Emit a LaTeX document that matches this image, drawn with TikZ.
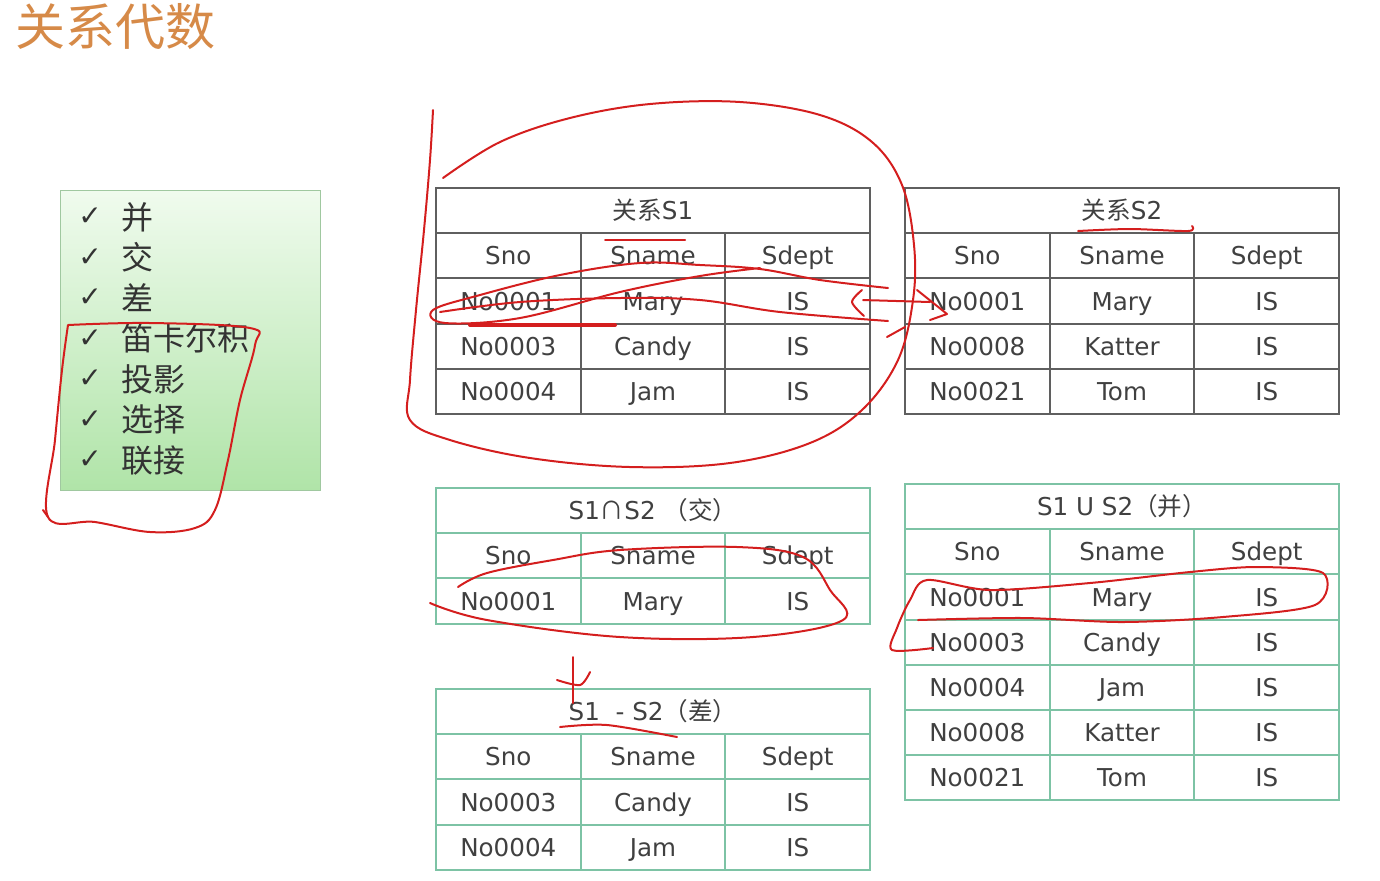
\documentclass[tikz,border=0pt]{standalone}
\usepackage{fontspec}
\setmainfont{DejaVu Sans}
\newfontfamily\cjk{Noto Sans CJK SC}
\definecolor{laranja}{RGB}{214,138,72}
\definecolor{cinza}{RGB}{95,95,95}
\definecolor{verdetab}{RGB}{125,195,165}
\definecolor{texto}{RGB}{64,64,64}
\definecolor{vermelho}{RGB}{212,30,30}
\definecolor{verdeclaro}{RGB}{240,251,238}
\definecolor{verdeescuro}{RGB}{176,228,168}
\definecolor{bordaverde}{RGB}{160,200,160}
\tikzset{
  cel/.style={inner sep=0pt, text height=10pt, text depth=1pt, text=texto, font=\fontsize{12.3}{14}\selectfont},
  item/.style={inner sep=0pt, text=black!80, font=\fontsize{16}{18}\selectfont\cjk},
  tinta/.style={draw=vermelho, line width=1pt, line cap=round, line join=round}
}
% tabela: nome, canto, cor, titulo, linhas
\newcommand{\tabela}[5]{%
  \begin{scope}[shift={#2}, color=#3, line width=1pt]
    \draw (0,0) rectangle (434,45.2);
    \node[cel] (#1-t) at (217,22.6) {#4};
    \foreach \va/\vb/\vc [count=\i from 0] in {Sno/Sname/Sdept,#5} {
      \foreach \vv [count=\j from 0] in {\va,\vb,\vc} {
        \draw (\j*144.7,45.2+\i*45.2) rectangle ++(144.7,45.2);
        \node[cel] (#1-\i-\j) at (72.3+\j*144.7,67.8+\i*45.2) {\vv};
      }
    }
  \end{scope}}
\begin{document}
\begin{tikzpicture}[x=0.5pt,y=-0.5pt] %Inicio do desenho
  \useasboundingbox (0,0) rectangle (1380,880);
    %Titulo
  \node[anchor=west, inner sep=0pt, text=laranja, font=\fontsize{25}{28}\selectfont\cjk] (titulo) at (15,27) {关系代数};
    %Lista
  \draw[bordaverde, top color=verdeclaro, bottom color=verdeescuro] (60,190) rectangle (320,490);
  \foreach \t [count=\i] in {并,交,差,笛卡尔积,投影,选择,联接} {
    \node[inner sep=0pt, text=black!80, font=\fontsize{14}{16}\selectfont] (chk\i) at (90,176.5+\i*40.5) {✓};
    \node[item, anchor=west] (item\i) at (121,176.5+\i*40.5) {\t};
  }
    %Tabelas
  \tabela{s1}{(436,188)}{cinza}{{\cjk 关系}S1}{No0001/Mary/IS,No0003/Candy/IS,No0004/Jam/IS}
  \tabela{s2}{(905,188)}{cinza}{{\cjk 关系}S2}{No0001/Mary/IS,No0008/Katter/IS,No0021/Tom/IS}
  \tabela{int}{(436,488)}{verdetab}{S1{\cjk ∩}S2 {\cjk （交）}}{No0001/Mary/IS}
  \tabela{uni}{(905,484)}{verdetab}{S1 U S2{\cjk （并）}}{No0001/Mary/IS,No0003/Candy/IS,No0004/Jam/IS,No0008/Katter/IS,No0021/Tom/IS}
  \tabela{dif}{(436,689)}{verdetab}{S1 \ - S2{\cjk （差）}}{No0003/Candy/IS,No0004/Jam/IS}
    %Anotacoes
  \draw[tinta] plot[smooth, tension=0.6] coordinates {(443,178) (500,142) (570,118) (650,104) (740,102) (820,115) (872,142) (902,185) (914,245) (913,300) (898,360) (862,410) (810,443) (730,463) (630,467) (530,458) (450,440) (410,420) (410,380) (416,310) (424,230) (430,160) (433,110)};
  \draw[tinta] plot[smooth, tension=0.6] coordinates {(888,288) (820,280) (760,269) (700,265) (640,263) (560,275) (480,295) (433,310) (445,323) (520,318) (620,292) (700,276) (760,268)};
  \draw[tinta] plot[smooth, tension=0.6] coordinates {(440,312) (520,302) (620,298) (700,300) (780,312) (888,321)};
  \draw[tinta, line width=2pt] (470,325) -- (615,325);
  \draw[tinta] plot[smooth] coordinates {(862,290) (852,302) (864,316)};
  \draw[tinta] (863,300) -- (930,302);
  \draw[tinta] (917,290) -- (947,314) -- (930,320);
  \draw[tinta] (887,337) -- (905,327);
  \draw[tinta] (605,240) -- (685,240);
  \draw[tinta] plot[smooth] coordinates {(1078,231) (1130,229) (1188,231) (1192,226)};
  \draw[tinta] plot[smooth, tension=0.6] coordinates {(430,603) (487,620) (620,637) (753,637) (843,620) (830,590) (803,557) (737,547) (620,550) (553,560) (487,573) (458,587)};
  \draw[tinta] plot[smooth, tension=0.5] coordinates {(933,648) (892,650) (897,628) (910,600) (927,580) (990,590) (1090,583) (1190,572) (1257,567) (1323,573) (1315,605) (1223,617) (1123,622) (1023,618) (918,620)};
  \draw[tinta] (573,657) -- (573,703);
  \draw[tinta] plot[smooth] coordinates {(557,680) (580,685) (590,672)};
  \draw[tinta] plot[smooth] coordinates {(560,727) (607,725) (677,737)};
  \draw[tinta] plot[smooth, tension=0.6] coordinates {(68,325) (150,323) (250,328) (255,345) (240,400) (228,460) (215,510) (195,528) (150,532) (95,522) (48,517) (55,440) (62,370) (68,325)};
  \draw[tinta] (48,517) -- (43,510);
\end{tikzpicture}
\end{document}
